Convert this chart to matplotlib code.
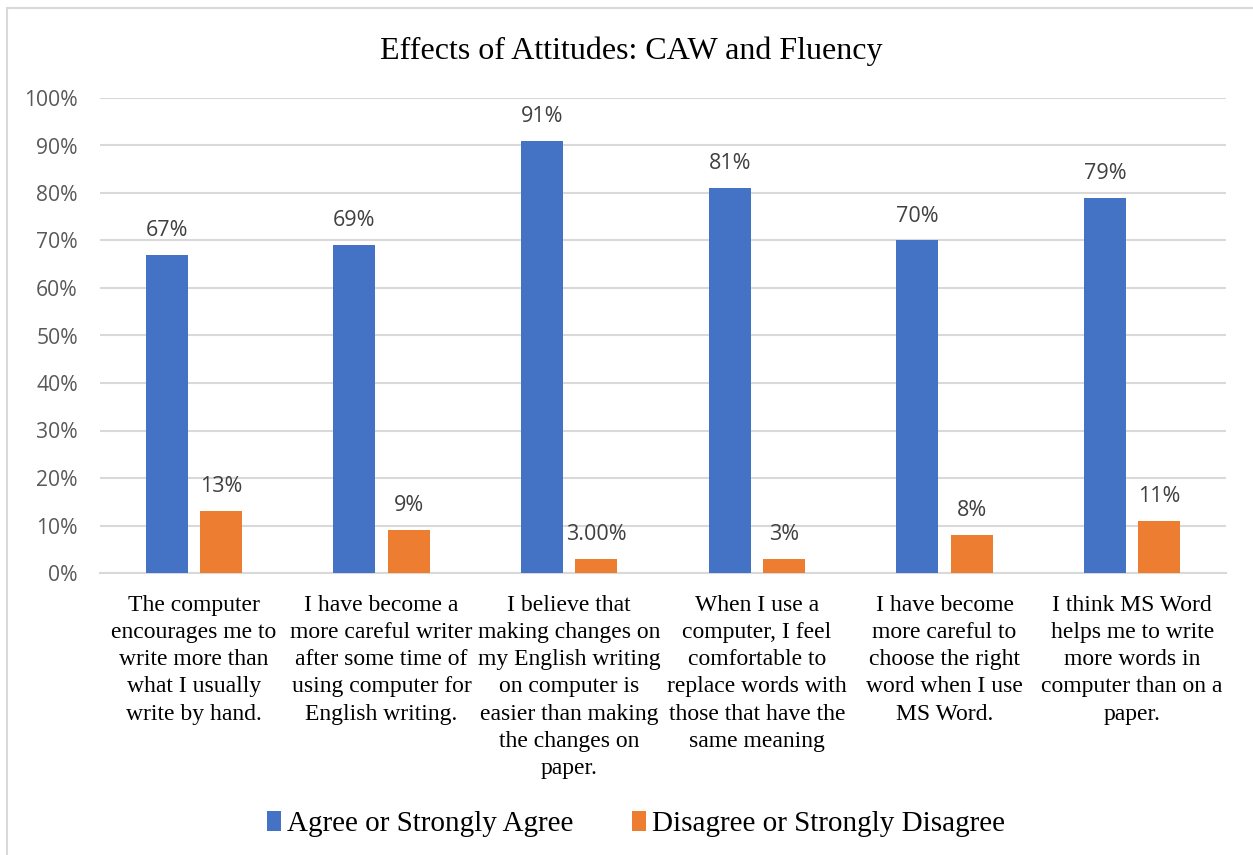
import matplotlib
matplotlib.use("Agg")
import matplotlib.pyplot as plt
from matplotlib.patches import Rectangle
import numpy as np

title = "Effects of Attitudes: CAW and Fluency"
categories = [
    "The computer\nencourages me to\nwrite more than\nwhat I usually\nwrite by hand.",
    "I have become a\nmore careful writer\nafter some time of\nusing computer for\nEnglish writing.",
    "I believe that\nmaking changes on\nmy English writing\non computer is\neasier than making\nthe changes on\npaper.",
    "When I use a\ncomputer, I feel\ncomfortable to\nreplace words with\nthose that have the\nsame meaning",
    "I have become\nmore careful to\nchoose the right\nword when I use\nMS Word.",
    "I think MS Word\nhelps me to write\nmore words in\ncomputer than on a\npaper.",
]
series_names = ["Agree or Strongly Agree", "Disagree or Strongly Disagree"]
agree = [67, 69, 91, 81, 70, 79]
disagree = [13, 9, 3, 3, 8, 11]
agree_decimals = [0, 0, 0, 0, 0, 0]
disagree_decimals = [0, 0, 2, 0, 0, 0]
yticks = [0, 10, 20, 30, 40, 50, 60, 70, 80, 90, 100]

BLUE = "#4472C4"
ORANGE = "#ED7D31"
GRID = "#D9D9D9"
SERIF = ["Liberation Serif", "DejaVu Serif"]
SANS = ["Open Sans", "DejaVu Sans"]

W, H = 1253, 855
fig = plt.figure(figsize=(W / 100, H / 100), dpi=100)
fig.patch.set_facecolor("white")

# chart-area frame
fig.patches.append(Rectangle((7 / W, -0.1), 1.2, 1.1 - 8 / H, transform=fig.transFigure,
                             fill=False, edgecolor=GRID, linewidth=1.5, zorder=0))

ax = fig.add_axes([100 / W, 1 - 573 / H, 1126 / W, 475 / H])
x = np.arange(len(categories))
bw = 0.224
off = 0.144
b1 = ax.bar(x - off, agree, bw, color=BLUE, zorder=3, label=series_names[0])
b2 = ax.bar(x + off, disagree, bw, color=ORANGE, zorder=3, label=series_names[1])

for bars, vals, decs in ((b1, agree, agree_decimals), (b2, disagree, disagree_decimals)):
    for rect, v, d in zip(bars, vals, decs):
        ax.annotate(f"{v:.{d}f}%", (rect.get_x() + rect.get_width() / 2, v),
                    xytext=(0, 10), textcoords="offset points", ha="center", va="bottom",
                    fontsize=15.5, color="#404040", family=SANS)

ax.set_xlim(-0.5, len(categories) - 0.5)
ax.set_ylim(0, 100)
ax.set_yticks(yticks)
ax.set_yticklabels([f"{t}%" for t in yticks], family=SANS, fontsize=15.2, color="#595959")
ax.yaxis.grid(True, color=GRID, linewidth=1.5, zorder=0)
ax.set_axisbelow(True)
ax.tick_params(axis="y", length=0, pad=16)
ax.tick_params(axis="x", length=0, pad=16)
ax.set_xticks(x)
ax.set_xticklabels(categories, family=SERIF, fontsize=17, color="black", linespacing=1.38,
                   va="top")
for s in ["top", "right", "left"]:
    ax.spines[s].set_visible(False)
ax.spines["bottom"].set_color(GRID)
ax.spines["bottom"].set_linewidth(1.5)

fig.text(631 / W, 1 - 51 / H, title, ha="center", va="center", family=SERIF, fontsize=23)

fig.legend(handles=[b1, b2], labels=series_names, loc="center", bbox_to_anchor=(636 / W, 1 - 824 / H),
           ncol=2, frameon=False, prop={"family": SERIF, "size": 21}, handlelength=0.5,
           handleheight=0.7, handletextpad=0.2, columnspacing=2.0)

fig.savefig("out.png", dpi=100, facecolor="white")
